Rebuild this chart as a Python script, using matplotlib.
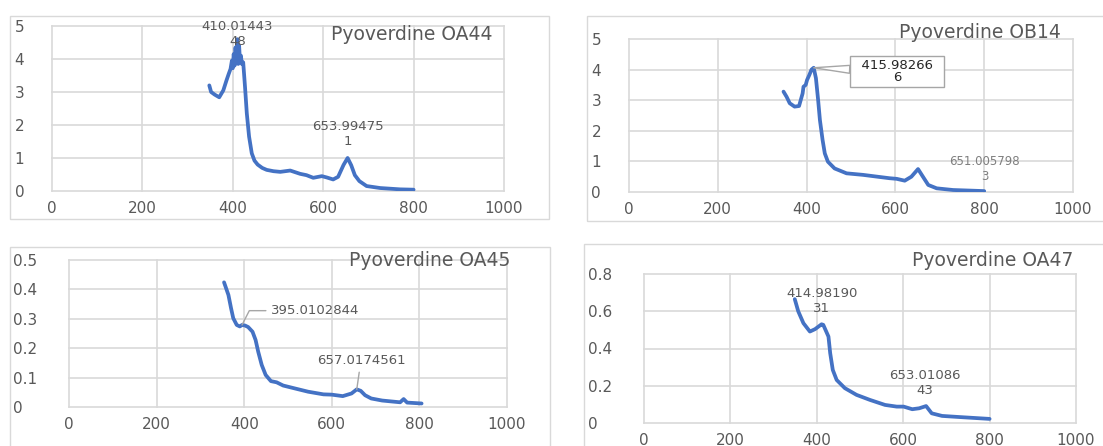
import numpy as np
import matplotlib
matplotlib.use('Agg')
import matplotlib.pyplot as plt
from matplotlib.patches import Rectangle
from matplotlib.ticker import FuncFormatter

# absorbance spectra (wavelength nm, absorbance), peaks listed separately
oa44_wl = [348, 352, 360, 370, 379, 386, 391, 395, 398, 400, 402, 404, 406, 408,
           412, 414, 416, 418, 420, 423, 427, 431, 436, 442, 448, 455, 465, 475,
           490, 505, 527, 549, 563, 578, 597, 608, 622, 633, 645, 662, 670, 680,
           696, 726, 770, 800]
oa44_abs = [3.2, 3.0, 2.92, 2.84, 3.05, 3.35, 3.55, 3.7, 3.95, 3.72, 4.15, 3.8, 4.35, 3.9,
            3.85, 4.4, 3.9, 4.1, 3.85, 3.9, 3.16, 2.35, 1.65, 1.14, 0.92, 0.8, 0.7, 0.64,
            0.6, 0.58, 0.62, 0.52, 0.48, 0.4, 0.45, 0.41, 0.35, 0.43, 0.79, 0.78, 0.48, 0.3,
            0.15, 0.09, 0.05, 0.04]
oa44_peak_wl = [410.0144348, 653.994751]
oa44_peak_abs = [4.6, 1.0]

ob14_wl = [348, 355, 362, 373, 383, 391, 393, 398, 401, 406, 411, 421, 426, 430,
           436, 441, 448, 463, 490, 527, 565, 587, 603, 621, 636, 662, 674, 693,
           730, 800]
ob14_abs = [3.28, 3.11, 2.9, 2.79, 2.81, 3.22, 3.44, 3.5, 3.66, 3.82, 4.0, 3.72, 3.0, 2.35,
            1.7, 1.26, 0.99, 0.77, 0.61, 0.56, 0.49, 0.45, 0.43, 0.37, 0.5, 0.5, 0.23, 0.12,
            0.065, 0.03]
ob14_peak_wl = [415.982666, 651.0057983]
ob14_peak_abs = [4.06, 0.75]

oa45_wl = [354, 364, 370, 375, 383, 390, 402, 409, 419, 426, 432, 440, 449, 461,
           474, 489, 516, 546, 581, 600, 625, 645, 666, 676, 690, 715, 756, 764,
           772, 805]
oa45_abs = [0.424, 0.381, 0.336, 0.302, 0.279, 0.274, 0.277, 0.272, 0.256, 0.228, 0.188,
            0.143, 0.109, 0.088, 0.084, 0.073, 0.063, 0.052, 0.043, 0.042, 0.037, 0.046,
            0.055, 0.04, 0.029, 0.022, 0.016, 0.027, 0.015, 0.012]
oa45_peak_wl = [395.0102844, 657.0174561]
oa45_peak_abs = [0.279, 0.06]

oa47_wl = [349, 357, 369, 384, 396, 411, 427, 431, 437, 446, 465, 492, 523, 558,
           585, 601, 621, 637, 666, 690, 730, 800]
oa47_abs = [0.665, 0.6, 0.536, 0.491, 0.504, 0.53, 0.464, 0.375, 0.285, 0.231, 0.187,
            0.151, 0.124, 0.097, 0.088, 0.088, 0.074, 0.079, 0.052, 0.038, 0.032, 0.022]
oa47_peak_wl = [414.9819031, 653.0108643]
oa47_peak_abs = [0.527, 0.091]

titles = ['Pyoverdine OA44', 'Pyoverdine OB14', 'Pyoverdine OA45', 'Pyoverdine OA47']
x_ticks = [0, 200, 400, 600, 800, 1000]
oa44_yticks = [0, 1, 2, 3, 4, 5]
ob14_yticks = [0, 1, 2, 3, 4, 5]
oa45_yticks = [0, 0.1, 0.2, 0.3, 0.4, 0.5]
oa47_yticks = [0, 0.2, 0.4, 0.6, 0.8]

BLUE = '#4472C4'
GRID = '#D9D9D9'
TXT = '#595959'
W, H = 1103, 446

fig = plt.figure(figsize=(W / 100, H / 100), dpi=100)


def px_rect(l, t, r, b):
    return [l / W, 1 - b / H, (r - l) / W, (b - t) / H]


def merged(wl, ab, pwl, pab):
    x = np.array(wl + pwl)
    y = np.array(ab + pab)
    order = np.argsort(x)
    return x[order], y[order]


def wrap(v, n):
    s = str(v)
    return s if n is None else s[:n] + '\n' + s[n:]


def setup(ax, yticks, ypad):
    ax.set_xlim(0, 1000)
    ax.set_ylim(yticks[0], yticks[-1])
    ax.set_xticks(x_ticks)
    ax.set_yticks(yticks)
    fmt = FuncFormatter(lambda v, p: f'{v:g}')
    ax.xaxis.set_major_formatter(fmt)
    ax.yaxis.set_major_formatter(fmt)
    for s in ax.spines.values():
        s.set_visible(False)
    ax.tick_params(length=0, labelsize=11, labelcolor=TXT)
    ax.tick_params(axis='x', pad=7)
    ax.tick_params(axis='y', pad=ypad)
    plt.setp(ax.get_yticklabels(), ha='left')
    ax.grid(True, color=GRID, lw=1.2)
    ax.set_axisbelow(True)
    for gl in ax.get_xgridlines() + ax.get_ygridlines():
        gl.set_clip_on(False)


panels = [
    (px_rect(52, 26, 504, 191), oa44_wl, oa44_abs, oa44_peak_wl, oa44_peak_abs, oa44_yticks, 27),
    (px_rect(629, 39, 1073, 192), ob14_wl, ob14_abs, ob14_peak_wl, ob14_peak_abs, ob14_yticks, 27),
    (px_rect(69, 260, 507, 407), oa45_wl, oa45_abs, oa45_peak_wl, oa45_peak_abs, oa45_yticks, 40),
    (px_rect(644, 274, 1076, 423), oa47_wl, oa47_abs, oa47_peak_wl, oa47_peak_abs, oa47_yticks, 40),
]

axes = []
for rect, wl, ab, pwl, pab, yt, ypad in panels:
    ax = fig.add_axes(rect)
    x, y = merged(wl, ab, pwl, pab)
    ax.plot(x, y, color=BLUE, lw=2.7, solid_joinstyle='round', solid_capstyle='round')
    setup(ax, yt, ypad)
    axes.append(ax)

# chart borders
for l, t, r, b in [(10, 16, 549, 219), (587, 16, 1110, 221), (10, 247, 550, 460), (584, 244, 1110, 460)]:
    fig.add_artist(Rectangle((l / W, 1 - b / H), (r - l) / W, (b - t) / H, transform=fig.transFigure,
                             fill=False, ec=GRID, lw=1))

# titles
for (cx, cy), t in zip([(412, 34), (980, 33), (430, 260), (993, 260)], titles):
    fig.text(cx / W, 1 - cy / H, t, ha='center', va='center', fontsize=13.5, color=TXT)

lab = dict(textcoords='offset points', ha='center', va='center', fontsize=9.5, color=TXT)

ax1, ax2, ax3, ax4 = axes
ax1.annotate(wrap(oa44_peak_wl[0], 9), (oa44_peak_wl[0], oa44_peak_abs[0]), xytext=(0, 4), **lab)
ax1.annotate(wrap(oa44_peak_wl[1], 9), (oa44_peak_wl[1], oa44_peak_abs[1]), xytext=(0, 17), **lab)

# callout box on the main OB14 peak
callout = wrap(ob14_peak_wl[0], 9).split('\n')
callout[0] = '  ' + callout[0] + '  '
ax2.annotate('\n'.join(callout), (ob14_peak_wl[0], ob14_peak_abs[0]), xytext=(60, -2.6),
             textcoords='offset points', ha='center', va='center', fontsize=9.5, color='#262626',
             linespacing=0.95,
             bbox=dict(boxstyle='square,pad=0.2', fc='white', ec='#A6A6A6', lw=1),
             arrowprops=dict(arrowstyle='wedge,tail_width=0.6,shrink_factor=0.5', fc='white',
                             ec='#A6A6A6', lw=1, shrinkA=0, shrinkB=0))
ax2.annotate(wrap(ob14_peak_wl[1], 10), (ob14_peak_wl[1], ob14_peak_abs[1]), xytext=(48, 0),
             textcoords='offset points', ha='center', va='center', fontsize=8.5, color='#7F7F7F')

ax3.annotate(wrap(oa45_peak_wl[0], None), (oa45_peak_wl[0], oa45_peak_abs[0]), xytext=(53, 10.3),
             arrowprops=dict(arrowstyle='-', color='#A6A6A6', lw=1, shrinkB=0,
                             connectionstyle='angle,angleA=180,angleB=63,rad=0'), **lab)
ax3.annotate(wrap(oa45_peak_wl[1], None), (oa45_peak_wl[1], oa45_peak_abs[1]), xytext=(3, 21),
             arrowprops=dict(arrowstyle='-', color='#A6A6A6', lw=1, shrinkB=0), **lab)

ax4.annotate(wrap(oa47_peak_wl[0], 9), (oa47_peak_wl[0], oa47_peak_abs[0]), xytext=(-1, 17), **lab)
ax4.annotate(wrap(oa47_peak_wl[1], 9), (oa47_peak_wl[1], oa47_peak_abs[1]), xytext=(-1, 16.6), **lab)

fig.savefig('out.png', dpi=100)
